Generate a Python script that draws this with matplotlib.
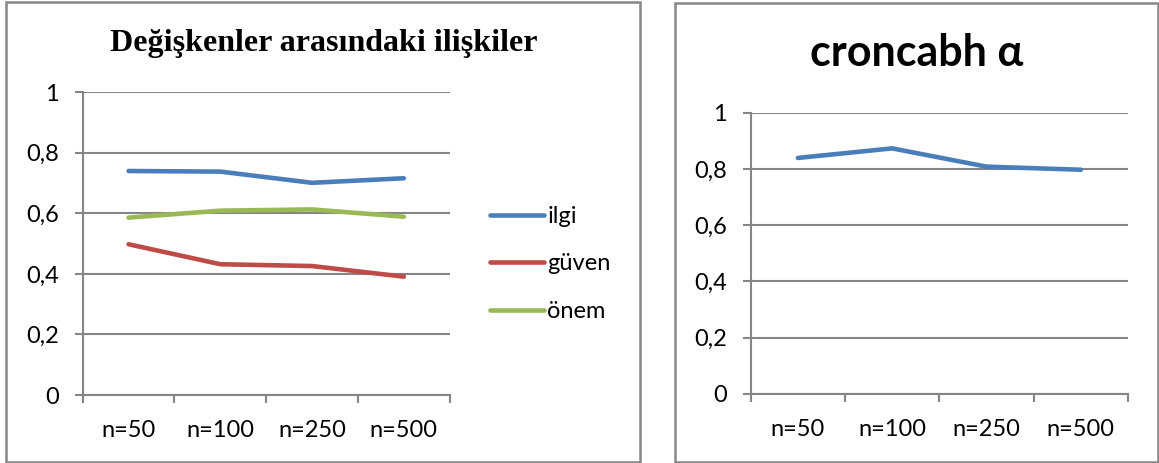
import matplotlib
matplotlib.use("Agg")
import matplotlib.pyplot as plt
from matplotlib.patches import Rectangle

# Data
categories = ["n=50", "n=100", "n=250", "n=500"]
ilgi = [0.740, 0.738, 0.701, 0.716]
guven = [0.498, 0.432, 0.426, 0.391]
onem = [0.586, 0.609, 0.613, 0.589]
cronbach = [0.839, 0.873, 0.808, 0.797]
y_ticks = [0, 0.2, 0.4, 0.6, 0.8, 1]
y_labels = ["0", "0,2", "0,4", "0,6", "0,8", "1"]

left_title = "Değişkenler arasındaki ilişkiler"
right_title = "croncabh α"

BLUE = "#4A7EBB"
RED = "#BE4B48"
GREEN = "#98B954"
GRID = "#868686"
FONT = ["Lato", "DejaVu Sans"]

W, H = 1159, 463
fig = plt.figure(figsize=(W / 100, H / 100), dpi=100)
fig.patch.set_facecolor("white")


def px_axes(x0, y0, x1, y1):
    """Axes from pixel box (top-left origin)."""
    return fig.add_axes([x0 / W, (H - y1) / H, (x1 - x0) / W, (y1 - y0) / H])


def style_axes(ax):
    x = list(range(len(categories)))
    ax.set_xlim(-0.5, len(categories) - 0.5)
    ax.set_ylim(0, 1)
    ax.set_yticks(y_ticks)
    ax.set_yticklabels(y_labels, fontfamily=FONT, fontsize=17)
    ax.set_xticks([i - 0.5 for i in range(len(categories) + 1)])
    ax.set_xticklabels([])
    ax.set_xticks(x, minor=True)
    ax.set_xticklabels(categories, minor=True, fontfamily=FONT, fontsize=17)
    ax.tick_params(axis="x", which="minor", length=0, pad=18)
    ax.tick_params(axis="x", which="major", length=6, width=1.5, color=GRID, direction="out")
    ax.tick_params(axis="y", length=6, width=1.5, color=GRID, direction="out", pad=11)
    for s in ["top", "right"]:
        ax.spines[s].set_visible(False)
    for s in ["left", "bottom"]:
        ax.spines[s].set_color(GRID)
        ax.spines[s].set_linewidth(1.5)
    ax.grid(axis="y", color=GRID, linewidth=1.5)
    ax.set_axisbelow(True)
    return x


# Chart frames
fig.patches.append(Rectangle((6 / W, 1.5 / H), (640 - 6) / W, (461.5 - 1.5) / H,
                             transform=fig.transFigure, fill=False,
                             edgecolor="#878787", linewidth=1.8))
fig.patches.append(Rectangle((675 / W, 1.5 / H), (1157.5 - 675) / W, (460.5 - 1.5) / H,
                             transform=fig.transFigure, fill=False,
                             edgecolor="#878787", linewidth=1.8))

# Left chart
ax1 = px_axes(82.7, 92.3, 449.7, 395)
x = style_axes(ax1)
l1, = ax1.plot(x, ilgi, color=BLUE, linewidth=3.3, solid_capstyle="round", label="ilgi")
l2, = ax1.plot(x, guven, color=RED, linewidth=3.3, solid_capstyle="round", label="güven")
l3, = ax1.plot(x, onem, color=GREEN, linewidth=3.3, solid_capstyle="round", label="önem")
fig.text(323.5 / W, 1 - 43 / H, left_title, ha="center", va="center",
         fontfamily="Liberation Serif", fontweight="bold", fontsize=23)

leg = fig.legend(handles=[l1, l2, l3], loc="upper left",
                 bbox_to_anchor=(490 / W, 1 - 206 / H),
                 frameon=False, prop={"family": FONT, "size": 17},
                 handlelength=2.3, handletextpad=0.12, labelspacing=1.12,
                 borderaxespad=0, borderpad=0)

# Right chart
ax2 = px_axes(750.7, 112.7, 1128, 393.7)
x = style_axes(ax2)
ax2.plot(x, cronbach, color=BLUE, linewidth=3.3, solid_capstyle="round")
fig.text(917 / W, 1 - 53 / H, right_title, ha="center", va="center",
         fontfamily=FONT, fontweight="bold", fontsize=31)

fig.savefig("out.png", dpi=100, facecolor="white")
